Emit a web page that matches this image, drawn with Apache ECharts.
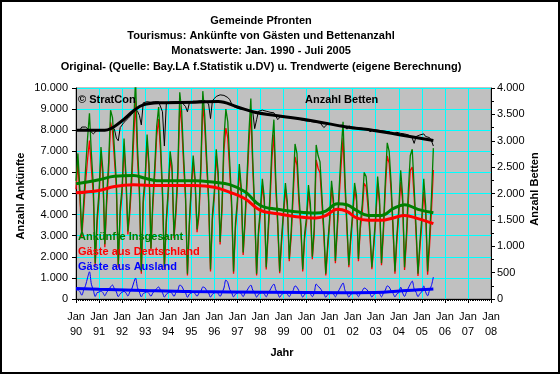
<!DOCTYPE html>
<html><head><meta charset="utf-8">
<script src="https://cdn.jsdelivr.net/npm/echarts@6/dist/echarts.min.js"></script>
<style>html,body{margin:0;padding:0;background:#fff}#c{width:560px;height:374px;box-sizing:border-box;border:2px solid #000}</style>
</head><body><div id="c"></div>
<script>
// x-axis tick labels (Jan of each year, 1990..2008)
const yearLabels = ['90','91','92','93','94','95','96','97','98','99','00','01','02','03','04','05','06','07','08'];
const titleLines = ['Gemeinde Pfronten','Tourismus: Ankünfte von Gästen und Bettenanzahl','Monatswerte: Jan. 1990 - Juli 2005','Original- (Quelle: Bay.LA f.Statistik u.DV) u. Trendwerte (eigene Berechnung)'];
const seriesNames = ['Ankünfte Insgesamt','Gäste aus Deutschland','Gäste aus Ausland'];

// monthly values, Jan 1990 .. Jul 2005
const total = [
5600,6900,5200,3100,4600,6200,7600,8800,6900,5400,1700,3900,
5100,7200,6100,2600,4900,6500,8950,8600,7100,5600,1600,4300,
5300,7600,5900,3200,4400,6000,8300,10400,7200,5300,1300,4800,
5800,7800,6400,2400,4700,6300,8200,9100,7400,5200,1500,3800,
5200,7000,6300,3000,4300,6100,9800,8900,6800,5000,1200,3700,
5400,6800,5700,3300,4200,6400,9850,8700,6700,4900,1400,4000,
5100,7100,6000,2700,4500,7600,9000,8400,6500,4600,1300,3600,
4700,6400,5300,2200,3900,5800,7900,9500,6600,4300,1200,3300,
4300,5700,4800,1500,3300,5000,7300,8500,5600,3700,1300,2900,
4200,5500,4600,1900,3200,5200,7350,6900,5000,3600,1400,3100,
3900,5400,4500,2000,3400,7300,6800,6500,4900,3300,1200,2600,
3800,5600,4700,1800,3500,5300,7000,8400,5700,3600,1600,3000,
4100,5500,4900,1900,3600,4500,6000,5800,4700,3200,1500,2700,
4000,5800,4700,1700,3400,5600,7400,7000,5500,3500,1300,3000,
4300,6100,4900,1500,3100,5200,6800,7100,5300,3400,1200,2700,
3900,5700,4400,1300,2900,4800,7150];
const deutschland = [
5200,6470,4850,2920,4180,5550,6600,7510,6200,4970,1580,3600,
4770,6820,5800,2450,4580,6080,8370,7940,6620,5260,1490,4050,
4980,7240,5610,3060,4070,5530,7540,9410,6660,4970,1200,4540,
5500,7460,6140,2270,4410,5920,7700,8530,6980,4900,1410,3580,
4910,6670,6030,2880,4000,5690,9140,8290,6370,4700,1120,3470,
5120,6480,5450,3170,3920,6030,9280,8160,6300,4610,1310,3780,
4810,6770,5740,2580,4200,7080,8100,7620,6050,4300,1200,3370,
4420,6080,5050,2090,3610,5400,7340,8840,6180,4020,1110,3080,
4030,5390,4560,1400,3020,4580,6700,7790,5170,3430,1220,2690,
3940,5200,4370,1790,2930,4800,6730,6340,4610,3340,1310,2880,
3630,5090,4260,1890,3110,6590,6200,5980,4520,3040,1120,2390,
3540,5300,4460,1700,3220,4860,6380,7640,5290,3330,1510,2780,
3840,5200,4650,1790,3330,4120,5480,5320,4330,2940,1410,2490,
3730,5480,4450,1600,3120,5180,6780,6430,5110,3230,1200,2760,
4000,5540,4610,1380,2770,4680,6100,6250,4820,3080,1090,2440,
3560,5080,4070,1150,2480,4160,6110];
const ausland = [
400,430,350,180,420,650,1000,1290,700,430,120,300,
330,380,300,150,320,420,580,660,480,340,110,250,
320,360,290,140,330,470,760,990,540,330,100,260,
300,340,260,130,290,380,500,570,420,300,90,220,
290,330,270,120,300,410,660,610,430,300,80,230,
280,320,250,130,280,370,570,540,400,290,90,220,
290,330,260,120,300,520,900,780,450,300,100,230,
280,320,250,110,290,400,560,660,420,280,90,220,
270,310,240,100,280,420,600,710,430,270,80,210,
260,300,230,110,270,400,620,560,390,260,90,220,
270,310,240,110,290,710,600,520,380,260,80,210,
260,300,240,100,280,440,620,760,410,270,90,220,
260,300,250,110,270,380,520,480,370,260,90,210,
270,320,250,100,280,420,620,570,390,270,100,240,
300,560,290,120,330,520,700,850,480,320,110,260,
340,620,330,150,420,640,1040];
const betten = [
3190,3200,3200,3260,3260,3260,3260,3200,3200,3130,3100,3200,
3200,3210,3200,3200,3200,3210,3250,3250,3220,3050,3000,3250,
3300,3350,3380,3420,3460,3500,3550,3600,3560,3480,3300,3720,
3730,3740,3740,3730,3730,3740,3740,3740,3720,3550,2900,3700,
3720,3730,3730,3740,3730,3740,3740,3730,3720,3650,3550,3720,
3750,3750,3740,3750,3760,3760,3750,3760,3740,3700,3420,3760,
3800,3840,3860,3870,3870,3860,3850,3820,3780,3700,3650,3640,
3620,3620,3600,3600,3590,3580,3570,3560,3550,3230,3400,3560,
3560,3580,3580,3560,3550,3540,3540,3530,3520,3400,3380,3480,
3470,3460,3450,3440,3430,3430,3420,3420,3410,3400,3380,3380,
3380,3370,3360,3360,3350,3350,3340,3340,3330,3250,3270,3320,
3320,3310,3300,3300,3300,3290,3300,3300,3290,3220,3280,3270,
3260,3260,3250,3250,3240,3240,3230,3230,3220,3170,3150,3210,
3200,3200,3190,3190,3180,3180,3170,3170,3160,3130,3150,3160,
3150,3140,3140,3130,3120,3110,3100,3050,2950,3080,3100,3110,
3120,3130,3080,3050,3060,3000,2900];

// trend values: [month index from Jan 1990, value]
const trendTotal = [[0,5460],[12,5650],[20,5820],[30,5850],[36,5720],[42,5610],[50,5600],[62,5610],[72,5530],[80,5420],[88,5080],[96,4430],[105,4250],[113,4150],[125,4070],[130,4170],[136,4510],[141,4470],[146,4200],[152,3960],[159,3960],[165,4280],[171,4470],[178,4250],[186,4090]];
const trendDeutschland = [[0,5030],[12,5140],[20,5330],[30,5410],[42,5380],[62,5380],[72,5300],[80,5060],[88,4750],[96,4200],[105,4040],[113,3920],[125,3840],[130,3950],[136,4250],[141,4150],[146,3840],[152,3730],[159,3730],[165,3840],[171,3960],[178,3810],[186,3570]];
const trendAusland = [[0,500],[12,460],[30,420],[60,350],[100,320],[140,300],[160,320],[172,400],[186,470]];
const trendBetten = [[0,3200],[15,3200],[23,3350],[30,3570],[35,3680],[44,3720],[62,3730],[74,3745],[84,3640],[93,3540],[104,3480],[125,3365],[141,3260],[155,3195],[169,3110],[186,3005]];

const FONT = '"Liberation Sans", Arial, sans-serif';
const pairs = a => a.map((v,i)=>[i,v]);
const fmt = v => String(v).replace(/\B(?=(\d{3})+(?!\d))/g,'.');

const chart = echarts.init(document.getElementById('c'), null, {renderer:'canvas'});
const GL = 74, GT = 86; // grid offset inside 2px border
const graphics = [];
const titleY = [21,36,51,67];
titleLines.forEach((t,i)=>{
  graphics.push({type:'text', x: 259, y: titleY[i]-2,
    style:{text:t, font:'bold 11px '+FONT, fill:'#000', textAlign:'center', textVerticalAlign:'middle'}});
});
graphics.push({type:'text', x:19, y:194, rotation:Math.PI/2, style:{text:'Anzahl Ankünfte', font:'bold 11px '+FONT, fill:'#000', textAlign:'center', textVerticalAlign:'middle'}});
graphics.push({type:'text', x:533, y:187, rotation:Math.PI/2, style:{text:'Anzahl Betten', font:'bold 11px '+FONT, fill:'#000', textAlign:'center', textVerticalAlign:'middle'}});
graphics.push({type:'text', x:280, y:351, style:{text:'Jahr', font:'bold 11px '+FONT, fill:'#000', textAlign:'center', textVerticalAlign:'middle'}});
graphics.push({type:'text', x:76, y:98, z:100, style:{text:'© StratCon', font:'bold 11px '+FONT, fill:'#000', textVerticalAlign:'middle'}});
graphics.push({type:'text', x:303, y:98, z:100, style:{text:'Anzahl Betten', font:'bold 11px '+FONT, fill:'#000', textVerticalAlign:'middle'}});
[['#008000',235],['#FF0000',250],['#0000FF',265]].forEach((c,i)=>{
  graphics.push({type:'text', x:76, y:c[1], z:100, style:{text:seriesNames[i], font:'bold 11px '+FONT, fill:c[0], textVerticalAlign:'middle'}});
});

chart.setOption({
  animation:false,
  backgroundColor:'#fff',
  textStyle:{fontFamily:FONT},
  grid:{left:GL, top:GT, width:415, height:211, show:true, backgroundColor:'#C0C0C0', borderColor:'#808080', borderWidth:1, containLabel:false},
  graphic:graphics,
  xAxis:{type:'value', min:0, max:216, interval:12,
    axisLine:{show:true, onZero:false, lineStyle:{color:'#000'}},
    axisTick:{show:true, length:4, lineStyle:{color:'#000'}},
    minorTick:{show:true, splitNumber:12, length:2, lineStyle:{color:'#000'}},
    axisLabel:{margin:10, fontSize:11, lineHeight:15, color:'#000',
      formatter:v=>'Jan\n'+yearLabels[Math.round(v/12)]},
    splitLine:{show:true, lineStyle:{color:'#00FFFF', width:1}}},
  yAxis:[
    {type:'value', min:0, max:10000, interval:1000, position:'left',
     axisLine:{show:true, lineStyle:{color:'#000'}},
     axisTick:{show:true, length:4, lineStyle:{color:'#000'}},
     axisLabel:{margin:8, fontSize:11, color:'#000', formatter:fmt},
     splitLine:{show:true, lineStyle:{color:'#00FFFF', width:1}}},
    {type:'value', min:0, max:4000, interval:500, position:'right',
     axisLine:{show:true, lineStyle:{color:'#000'}},
     axisTick:{show:true, length:4, lineStyle:{color:'#000'}},
     minorTick:{show:true, splitNumber:2, length:3, lineStyle:{color:'#000'}},
     axisLabel:{margin:6, fontSize:11, color:'#000', formatter:fmt},
     splitLine:{show:false}}
  ],
  series:[
    {name:'Betten', type:'line', yAxisIndex:1, data:pairs(betten), symbol:'none', lineStyle:{color:'#000', width:1}},
    {name:seriesNames[1], type:'line', data:pairs(deutschland), symbol:'none', lineStyle:{color:'#FF0000', width:1.3}},
    {name:seriesNames[0], type:'line', data:pairs(total), symbol:'none', lineStyle:{color:'#008000', width:1.3}},
    {name:seriesNames[2], type:'line', data:pairs(ausland), symbol:'none', smooth:0.3, lineStyle:{color:'#0000FF', width:1}},
    {name:'Trend Betten', type:'line', yAxisIndex:1, data:trendBetten, symbol:'none', smooth:0.4, lineStyle:{color:'#000', width:3}},
    {name:'Trend D', type:'line', data:trendDeutschland, symbol:'none', smooth:0.4, lineStyle:{color:'#FF0000', width:3}},
    {name:'Trend I', type:'line', data:trendTotal, symbol:'none', smooth:0.4, lineStyle:{color:'#008000', width:3}},
    {name:'Trend A', type:'line', data:trendAusland, symbol:'none', smooth:0.4, lineStyle:{color:'#0000FF', width:3}}
  ]
});
</script></body></html>
